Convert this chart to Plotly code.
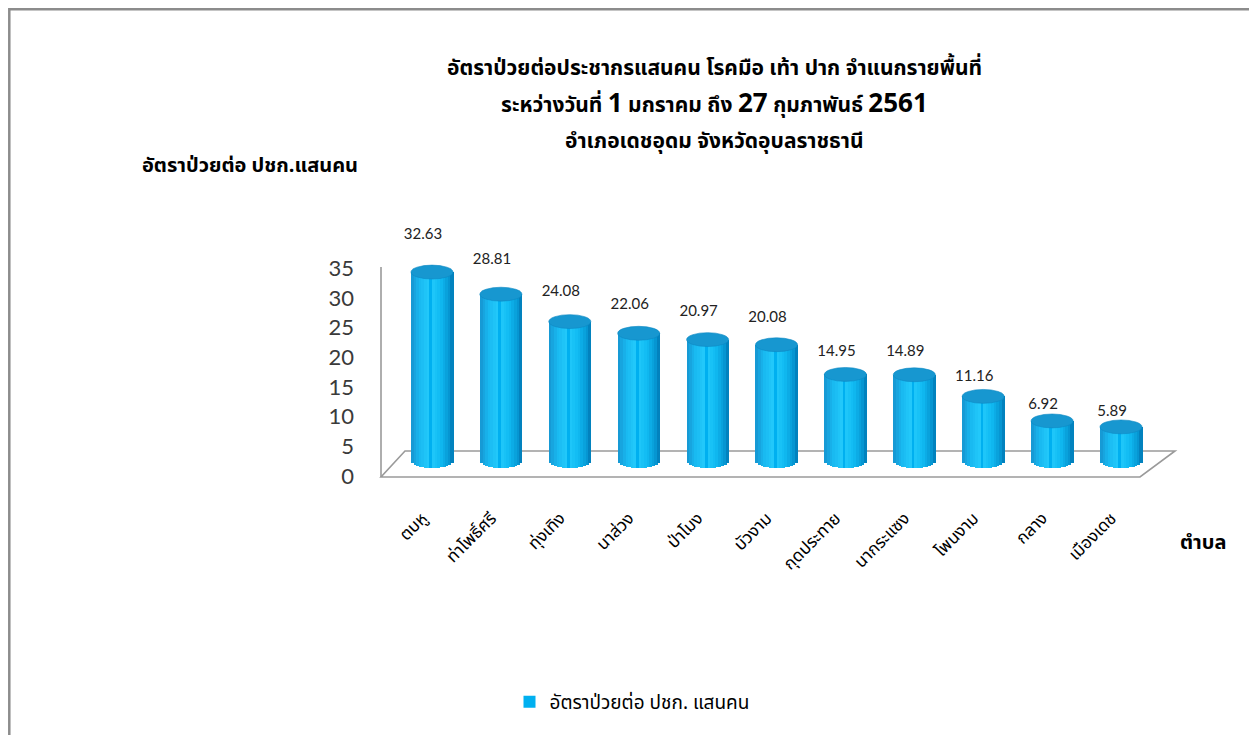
import plotly.graph_objects as go
import math

categories = ["ตบหู", "ท่าโพธิ์ศรี", "ทุ่งเทิง", "นาส่วง", "ป่าโมง", "บัวงาม",
              "กุดประทาย", "นากระแซง", "โพนงาม", "กลาง", "เมืองเดช"]
values = [32.63, 28.81, 24.08, 22.06, 20.97, 20.08, 14.95, 14.89, 11.16, 6.92, 5.89]
series_name = "อัตราป่วยต่อ ปชก. แสนคน"
y_ticks = [0, 5, 10, 15, 20, 25, 30, 35]
title_lines = [
    "อัตราป่วยต่อประชากรแสนคน โรคมือ เท้า ปาก จำแนกรายพื้นที่",
    "ระหว่างวันที่ <span style='font-size:26px'>1</span> มกราคม ถึง <span style='font-size:26px'>27</span> กุมภาพันธ์ <span style='font-size:26px'>2561</span>",
    "อำเภอเดชอุดม จังหวัดอุบลราชธานี",
]
y_title = "อัตราป่วยต่อ ปชก.แสนคน"
x_title = "ตำบล"

# page offset of the figure div (body margin)
S = 8
W, H = 1257 - S, 735 - S
# plot box in screen pixels
PLs, PRs, PTs, PBs = 381, 1175, 220, 490
ML, MT = PLs - S, PTs - S
MR, MB = W - (PRs - S), H - (PBs - S)

THAI = "Tahoma, 'Noto Sans Thai', Loma, 'Noto Sans', 'DejaVu Sans', sans-serif"
NUM = "Lato, 'Open Sans', sans-serif"

n = len(values)
xs = list(range(n))
bar_w = 0.61
cap_h = 1.2  # half height of ellipse in y2 units

stops = [(0.0, (22, 148, 208)), (0.2, (24, 184, 240)), (0.45, (36, 204, 252)),
         (0.7, (16, 186, 242)), (0.9, (6, 152, 212)), (1.0, (0, 120, 180))]


def grad(t):
    for (a, ca), (b, cb) in zip(stops[:-1], stops[1:]):
        if a <= t <= b:
            f = (t - a) / (b - a)
            c = [round(ca[i] + (cb[i] - ca[i]) * f) for i in range(3)]
            return "rgb(%d,%d,%d)" % tuple(c)
    return "rgb(0,120,180)"


fig = go.Figure()
N = 16
sw = bar_w / N
for k in range(N):
    t = (k + 0.5) / N
    u = 2 * t - 1
    b = cap_h * math.sqrt(max(0.0, 1 - u * u))
    off = -bar_w / 2 + k * sw
    legend = (k == 7)
    fig.add_trace(go.Bar(
        x=xs, y=[v + b for v in values], base=[-b] * n,
        width=sw * 1.2, offset=off,
        marker=dict(color=grad(t) if not legend else "#00B0F0", line=dict(width=0)),
        yaxis="y2", name=series_name, showlegend=legend, hoverinfo="skip",
    ))

# data labels
fig.add_trace(go.Scatter(
    x=[x - 0.13 for x in xs], y=[1.142 * v + 1.73 for v in values],
    text=["%.2f" % v for v in values], mode="text",
    textfont=dict(family=NUM, size=15, color="#222"),
    yaxis="y2", showlegend=False, hoverinfo="skip", cliponaxis=False,
))

# tick-scale invisible trace
fig.add_trace(go.Scatter(x=[0], y=[0], mode="markers", marker=dict(opacity=0),
                         showlegend=False, hoverinfo="skip"))

shapes = []


def px2x(px):
    return (px - PLs) / (PRs - PLs)


def px2y(py):
    return (PBs - py) / (PBs - PTs)


# caps
for x, v in zip(xs, values):
    shapes.append(dict(type="circle", xref="x", yref="y2",
                       x0=x - bar_w / 2, x1=x + bar_w / 2, y0=v - cap_h, y1=v + cap_h,
                       fillcolor="#1797D0", line=dict(width=0.6, color="#0e88c2"), layer="above"))

# floor and wall line
grey = "#9a9a9a"
shapes.append(dict(type="path", xref="paper", yref="paper",
                   path="M %f %f L %f %f L %f %f L %f %f Z" % (
                       px2x(381), px2y(477), px2x(1140), px2y(477),
                       px2x(1175), px2y(451), px2x(405), px2y(451)),
                   line=dict(color=grey, width=1.6), fillcolor="white", layer="below"))
shapes.append(dict(type="line", xref="paper", yref="paper",
                   x0=px2x(381), x1=px2x(381), y0=px2y(267), y1=px2y(477),
                   line=dict(color=grey, width=1.6), layer="below"))
# frame (left/top as close to the page edge as the figure allows)
shapes.append(dict(type="path", xref="paper", yref="paper",
                   path="M %f %f L %f %f L %f %f L %f %f" % (
                       px2x(S + 1.3), px2y(745), px2x(S + 1.3), px2y(S + 1.3),
                       px2x(1255), px2y(S + 1.3), px2x(1255), px2y(745)),
                   line=dict(color="#8c8c8c", width=2.5)))

annotations = []
for i, (line, py) in enumerate(zip(title_lines, [68, 104, 141])):
    annotations.append(dict(text="<b>%s</b>" % line, xref="paper", yref="paper",
                            x=px2x(714), y=px2y(py), showarrow=False,
                            xanchor="center", yanchor="middle",
                            font=dict(family=THAI, size=21, color="#000")))
annotations.append(dict(text="<b>%s</b>" % y_title, xref="paper", yref="paper",
                        x=px2x(140), y=px2y(166), showarrow=False,
                        xanchor="left", yanchor="middle",
                        font=dict(family=THAI, size=20, color="#000")))
annotations.append(dict(text="<b>%s</b>" % x_title, xref="paper", yref="paper",
                        x=px2x(1203), y=px2y(543), showarrow=False,
                        xanchor="center", yanchor="middle",
                        font=dict(family=THAI, size=20, color="#000")))

y1r = [(476 - PBs) / 5.94, (476 - PTs) / 5.94]
y2r = [(461 - PBs) / 5.79, (461 - PTs) / 5.79]
x_r = [(PLs - 432) / 68.9, (PRs - 432) / 68.9]

fig.update_layout(
    width=W, height=H,
    margin=dict(l=ML, r=MR, t=MT, b=MB),
    paper_bgcolor="white", plot_bgcolor="white",
    barmode="overlay", bargap=0,
    showlegend=True,
    legend=dict(orientation="h", x=px2x(632), y=px2y(702), xanchor="center", yanchor="middle",
                font=dict(family=THAI, size=19, color="#000"), itemwidth=30),
    xaxis=dict(range=x_r, tickmode="array", tickvals=[x - 0.14 for x in xs], ticktext=categories,
               tickangle=-45, showgrid=False, zeroline=False, showline=False, ticks="",
               ticklabelstandoff=14,
               tickfont=dict(family=THAI, size=17, color="#000")),
    yaxis=dict(range=y1r, tickmode="array", tickvals=y_ticks, showgrid=False, zeroline=False,
               showline=False, ticks="", ticklabelstandoff=26,
               tickfont=dict(family=NUM, size=22, color="#3a3a3a")),
    yaxis2=dict(range=y2r, overlaying="y", visible=False),
    shapes=shapes, annotations=annotations,
)

fig.write_html("out.html")
